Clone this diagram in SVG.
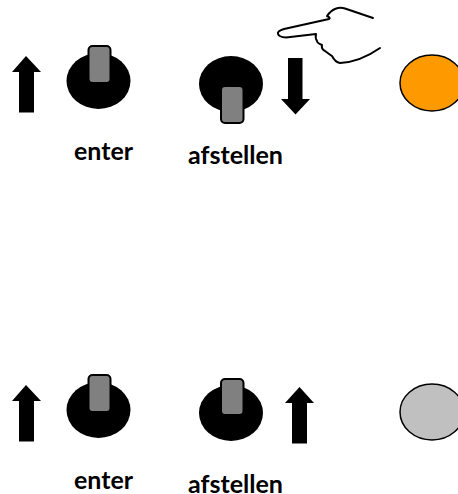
<svg xmlns="http://www.w3.org/2000/svg" width="458" height="494" viewBox="0 0 458 494">
<style>
.knob{fill:#000}
.lever{fill:#808080;stroke:#000;stroke-width:2}
.arrow{fill:#000}
.lamp{stroke:#000;stroke-width:1.5}
.hand{fill:none;stroke:#000;stroke-width:2;stroke-linecap:round;stroke-linejoin:round}
text{font-family:Lato,"Liberation Sans",sans-serif;font-weight:700;font-size:24.500px;fill:#000}
</style>
<rect width="458" height="494" fill="#fff"/>
<g id="arrow-up-1"><polygon class="arrow" points="26,56 41,72 34,72 34,112.500 19,112.500 19,72 12,72"/></g>
<g id="knob-enter-1"><ellipse class="knob" cx="98.500" cy="81" rx="32" ry="28"/><rect class="lever" x="88.500" y="46" width="22" height="37" rx="4"/></g>
<g id="label-enter-1"><text x="74" y="160" textLength="59" lengthAdjust="spacingAndGlyphs">enter</text></g>
<g id="knob-afstellen-1"><ellipse class="knob" cx="231" cy="84" rx="32" ry="28"/><rect class="lever" x="221" y="86" width="22.500" height="37" rx="4"/></g>
<g id="label-afstellen-1"><text x="188" y="163.500" textLength="95" lengthAdjust="spacingAndGlyphs">afstellen</text></g>
<g id="arrow-down"><polygon class="arrow" points="288,58 302.500,58 302.500,99 310,99 295.500,114.500 281,99 288,99"/></g>
<g id="hand"><path class="hand" d="M373,18 L345,8.500 Q340,7 335,9 Q331,10.500 327,16 Q331,18 329,19 L284,29 Q277,31 278,34 Q279,37 286,37.500 L316,34 Q315,38 317,41 Q317,43 322,45 Q321,49 325,51 Q329,54 332,56 Q335,62 340,63 Q360,62 380,48"/></g>
<g id="lamp-orange"><ellipse class="lamp" cx="432" cy="83" rx="32" ry="28" fill="#ff9900"/></g>
<g id="arrow-up-2"><polygon class="arrow" points="26,385 41,401 34,401 34,441.500 19,441.500 19,401 12,401"/></g>
<g id="knob-enter-2"><ellipse class="knob" cx="98.500" cy="410" rx="32" ry="28"/><rect class="lever" x="88.500" y="375" width="22" height="37" rx="4"/></g>
<g id="label-enter-2"><text x="74" y="489" textLength="59" lengthAdjust="spacingAndGlyphs">enter</text></g>
<g id="knob-afstellen-2"><ellipse class="knob" cx="231" cy="413" rx="32" ry="28"/><rect class="lever" x="221" y="379" width="22.500" height="36" rx="4"/></g>
<g id="label-afstellen-2"><text x="188" y="492.500" textLength="95" lengthAdjust="spacingAndGlyphs">afstellen</text></g>
<g id="arrow-up-3"><polygon class="arrow" points="299.500,387 314,403 307,403 307,443.500 292,443.500 292,403 285,403"/></g>
<g id="lamp-grey"><ellipse class="lamp" cx="432" cy="412" rx="32" ry="28" fill="#c0c0c0"/></g>
</svg>
